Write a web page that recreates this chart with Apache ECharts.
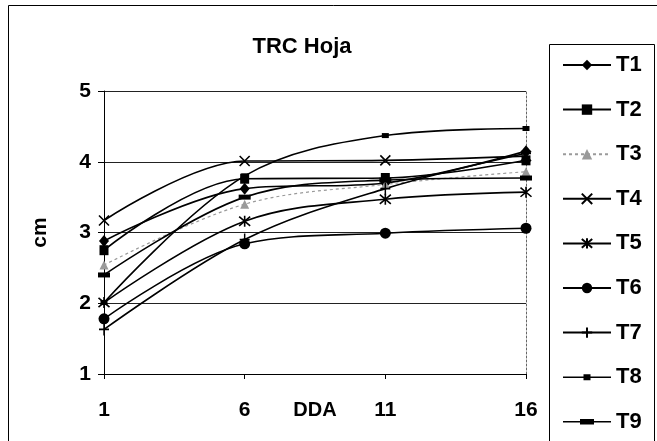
<!DOCTYPE html>
<html>
<head>
<meta charset="utf-8">
<script src="https://cdn.jsdelivr.net/npm/echarts@6/dist/echarts.min.js"></script>
<style>
html,body{margin:0;padding:0;background:#fff;}
#c{width:657px;height:441px;}
</style>
</head>
<body>
<div id="c"></div>
<script>
var categories = ['1', '6', '11', '16'];
var yTicks = [1, 2, 3, 4, 5];
var seriesNames = ['T1', 'T2', 'T3', 'T4', 'T5', 'T6', 'T7', 'T8', 'T9'];
var T1 = [2.88, 3.62, 3.70, 4.15];
var T2 = [2.75, 3.76, 3.77, 4.02];
var T3 = [2.54, 3.40, 3.68, 3.86];
var T4 = [3.17, 4.01, 4.02, 4.08];
var T5 = [2.01, 3.16, 3.47, 3.57];
var T6 = [1.78, 2.84, 2.99, 3.06];
var T7 = [1.63, 2.90, 3.62, 4.12];
var T8 = [2.01, 3.80, 4.37, 4.47];
var T9 = [2.40, 3.50, 3.74, 3.77];
var values = [T1, T2, T3, T4, T5, T6, T7, T8, T9];

var FONT = '"Liberation Sans", Arial, sans-serif';
var symbols = [
  {symbol: 'diamond', size: [10, 12]},
  {symbol: 'rect', size: [9, 10]},
  {symbol: 'triangle', size: 9},
  {symbol: 'path://M0,0L10,10M10,0L0,10', size: 10},
  {symbol: 'path://M0,0L10,10M10,0L0,10M5,-1L5,11', size: 11},
  {symbol: 'circle', size: 11},
  {symbol: 'path://M5,0L5,12M0,6L10,6', size: [10, 12]},
  {symbol: 'rect', size: [7, 5]},
  {symbol: 'rect', size: [12, 5]}
];
// custom legend icons (line + marker) for the two bar-shaped markers
var legendIcons = {
  T8: 'path://M0,0M48,13M0,5.7h48v1.6h-48zM20.5,3.5h7v6h-7z',
  T9: 'path://M0,0M48,13M0,5.7h48v1.6h-48zM17,3.8h14v5.4h-14z'
};
var series = seriesNames.map(function (n, i) {
  var gray = (i === 2);
  var col = gray ? '#9a9a9a' : '#000';
  var isPath = symbols[i].symbol.indexOf('path://') === 0;
  return {
    name: n,
    type: 'line',
    data: values[i],
    smooth: 0.35,
    symbol: symbols[i].symbol,
    symbolSize: symbols[i].size,
    showAllSymbol: true,
    lineStyle: {color: col, width: gray ? 1.2 : 1.6, type: gray ? [3, 3] : 'solid'},
    itemStyle: {color: col, borderColor: col, borderWidth: isPath ? 1.6 : 0},
    emphasis: {disabled: true},
    z: 3
  };
});
var legendData = seriesNames.map(function (n) {
  return legendIcons[n] ? {name: n, icon: legendIcons[n]} : {name: n};
});

var chart = echarts.init(document.getElementById('c'), null, {renderer: 'canvas'});
chart.setOption({
  animation: false,
  backgroundColor: '#fff',
  title: {
    text: 'TRC Hoja',
    left: 297, top: 31, textAlign: 'center',
    textStyle: {fontFamily: FONT, fontWeight: 'bold', fontSize: 22, color: '#000'}
  },
  grid: {left: 104, right: 131, top: 91, bottom: 67, containLabel: false, outerBoundsMode: 'none'},
  legend: {
    orient: 'vertical',
    left: 562, top: 53,
    padding: 0,
    itemWidth: 48, itemHeight: 13,
    itemGap: 20.6,
    data: legendData,
    textStyle: {fontFamily: FONT, fontWeight: 'bold', fontSize: 22, color: '#000', lineHeight: 24, padding: [0, 0, 0, 0]},
    selectedMode: false
  },
  xAxis: {
    type: 'category',
    data: categories,
    boundaryGap: false,
    name: 'DDA',
    nameLocation: 'middle',
    nameGap: 26,
    nameMoveOverlap: false,
    nameTextStyle: {fontFamily: FONT, fontWeight: 'bold', fontSize: 20, color: '#000'},
    axisLine: {lineStyle: {color: '#000', width: 1}},
    axisTick: {show: true, length: 5, lineStyle: {color: '#000'}},
    axisLabel: {margin: 26, fontFamily: FONT, fontWeight: 'bold', fontSize: 21, color: '#000'},
    splitLine: {show: false}
  },
  yAxis: [{
    type: 'value',
    min: yTicks[0], max: yTicks[yTicks.length - 1], interval: 1,
    name: 'cm',
    nameLocation: 'middle',
    nameGap: 53,
    nameRotate: 90,
    nameMoveOverlap: false,
    nameTextStyle: {fontFamily: FONT, fontWeight: 'bold', fontSize: 21, color: '#000'},
    axisLine: {show: true, lineStyle: {color: '#000', width: 1}},
    axisTick: {show: true, length: 6, lineStyle: {color: '#000'}},
    axisLabel: {margin: 13, fontFamily: FONT, fontWeight: 'bold', fontSize: 21, color: '#000'},
    splitLine: {show: true, lineStyle: {color: '#222', width: 1}}
  }, {
    type: 'value',
    position: 'right',
    min: yTicks[0], max: yTicks[yTicks.length - 1], interval: 1,
    axisLine: {show: true, lineStyle: {color: '#666', width: 1, type: [2, 2]}},
    axisTick: {show: false},
    axisLabel: {show: false},
    splitLine: {show: false}
  }],
  graphic: [
    {type: 'rect', shape: {x: 8.5, y: 5.5, width: 700, height: 500}, style: {fill: 'none', stroke: '#000', lineWidth: 1}, silent: true},
    {type: 'rect', shape: {x: 549.5, y: 44.5, width: 105, height: 460}, style: {fill: 'none', stroke: '#000', lineWidth: 1}, silent: true}
  ],
  series: series
});
</script>
</body>
</html>
